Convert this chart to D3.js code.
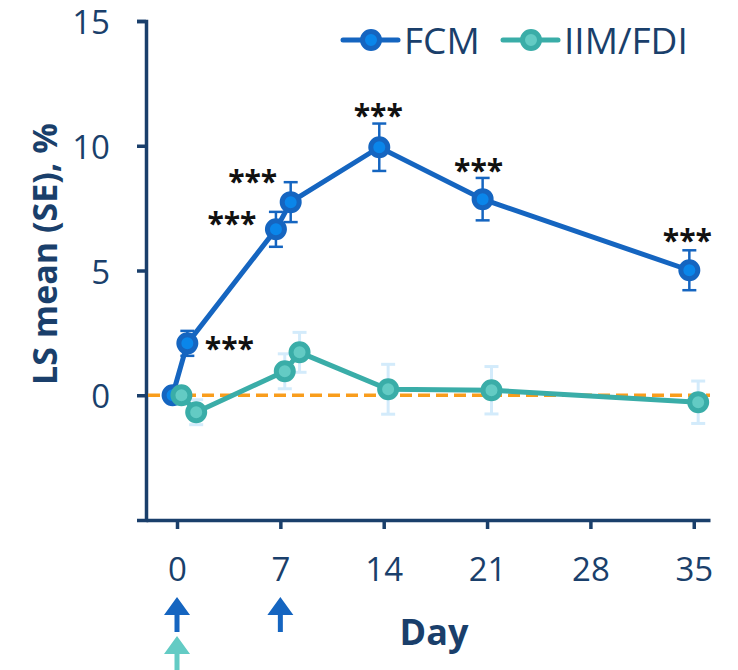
<!DOCTYPE html>
<html><head><meta charset="utf-8">
<script src="https://cdn.jsdelivr.net/npm/d3@7"></script>
<style>body{margin:0;background:#fff}svg{display:block}</style>
</head><body>
<svg id="c" width="738" height="670"></svg>
<script>
const days = [0, 1, 7, 8, 14, 21, 35];
const fcmMean = [0, 2.08, 6.65, 7.74, 9.94, 7.86, 5.01];
const fcmSE = [0, 0.5, 0.7, 0.8, 0.95, 0.85, 0.8];
const iimMean = [0, -0.68, 0.96, 1.72, 0.24, 0.2, -0.28];
const iimSE = [0, 0.5, 0.7, 0.8, 1.0, 0.95, 0.85];
const fcmSig = ["", "***", "***", "***", "***", "***", "***"];
const xTicks = [0, 7, 14, 21, 28, 35];
const yTicks = [0, 5, 10, 15];
const seriesNames = ["FCM", "IIM/FDI"];
const fcmDoses = [0, 7];
const iimDoses = [0];

// layout: offset (px) of each significance label centre from its marker
const sigOffset = [null, [42, -1], [-44, -12], [-38, -27], [-1, -38], [-4, -35], [-2, -36]];

const navy = "#1a3f6b", blue = "#1565c0", blueIn = "#0a86ea", teal = "#3aada8", tealIn = "#63cbc4";
const font = "'Open Sans','Noto Sans',sans-serif";
const svg = d3.select("#c");
const x = d3.scaleLinear().domain([-2.1, 36.1]).range([146, 710]);
const y = d3.scaleLinear().domain([-5, 15]).range([520, 21]);
const off = 0.3;

// axes
const yAx = svg.append("g").attr("transform", "translate(146,0)")
  .call(d3.axisLeft(y).tickValues(yTicks).tickSize(9).tickPadding(27));
const xAx = svg.append("g").attr("transform", "translate(0,520)")
  .call(d3.axisBottom(x).tickValues(xTicks).tickSize(9).tickSizeOuter(0).tickPadding(29));
[yAx, xAx].forEach(a => {
  a.select(".domain").attr("stroke", navy).attr("stroke-width", 3.5);
  a.selectAll(".tick line").attr("stroke", navy).attr("stroke-width", 3.5);
  a.selectAll("text").attr("fill", navy).style("font-family", font).style("font-size", "33px");
});
yAx.selectAll("text").attr("dy", "0.38em");
svg.append("text").attr("transform", "translate(57,254) rotate(-90)").attr("text-anchor", "middle")
  .attr("fill", navy).style("font-family", font).style("font-size", "34px").style("font-weight", "700")
  .text("LS mean (SE), %");
svg.append("text").attr("x", 434).attr("y", 645).attr("text-anchor", "middle")
  .attr("fill", navy).style("font-family", font).style("font-size", "36px").style("font-weight", "700")
  .text("Day");

// zero reference line
svg.append("line").attr("x1", 148).attr("x2", 710).attr("y1", y(0)).attr("y2", y(0))
  .attr("stroke", "#f99d1c").attr("stroke-width", 3.5).attr("stroke-dasharray", "12,6");

const fcm = days.map((d, i) => ({ d: d - off, m: fcmMean[i], se: fcmSE[i], s: fcmSig[i], o: sigOffset[i] }));
const iim = days.map((d, i) => ({ d: d + off, m: iimMean[i], se: iimSE[i] }));

function errbars(data, color, w) {
  const g = svg.append("g").attr("stroke", color).attr("stroke-width", w);
  data.filter(p => p.se > 0).forEach(p => {
    g.append("line").attr("x1", x(p.d)).attr("x2", x(p.d)).attr("y1", y(p.m - p.se)).attr("y2", y(p.m + p.se));
    [p.m - p.se, p.m + p.se].forEach(v => g.append("line").attr("x1", x(p.d) - 7).attr("x2", x(p.d) + 7).attr("y1", y(v)).attr("y2", y(v)));
  });
}
errbars(iim, "#d3ebfb", 3);
errbars(fcm, blue, 2.5);

const line = d3.line().x(p => x(p.d)).y(p => y(p.m));
function series(data, c, cin) {
  svg.append("path").datum(data).attr("d", line).attr("fill", "none").attr("stroke", c).attr("stroke-width", 5);
  svg.append("g").selectAll("circle").data(data).join("circle")
    .attr("cx", p => x(p.d)).attr("cy", p => y(p.m)).attr("r", 8.5)
    .attr("fill", cin).attr("stroke", c).attr("stroke-width", 5);
}
series(fcm, blue, blueIn);
series(iim, teal, tealIn);

// significance stars
fcm.forEach(p => {
  if (!p.s) return;
  svg.append("text").attr("x", x(p.d) + p.o[0]).attr("y", y(p.m) + p.o[1] + 17)
    .attr("text-anchor", "middle").attr("fill", "#111")
    .style("font-family", font).style("font-size", "30px").style("font-weight", "700").text(p.s);
});

// legend
const legend = [{ n: seriesNames[0], c: blue, ci: blueIn, x: 343 }, { n: seriesNames[1], c: teal, ci: tealIn, x: 503 }];
legend.forEach(l => {
  svg.append("line").attr("x1", l.x).attr("x2", l.x + 55).attr("y1", 40).attr("y2", 40).attr("stroke", l.c).attr("stroke-width", 5).attr("stroke-linecap", "round");
  svg.append("circle").attr("cx", l.x + 28).attr("cy", 40).attr("r", 8.5).attr("fill", l.ci).attr("stroke", l.c).attr("stroke-width", 5);
  svg.append("text").attr("x", l.x + 61).attr("y", 54).attr("fill", navy).style("font-family", font).style("font-size", "37px").text(l.n);
});

// dose arrows
function arrow(d, y0, color) {
  const cx = x(d);
  svg.append("path").attr("d", `M${cx},${y0} L${cx + 13},${y0 + 18} L${cx + 2.5},${y0 + 18} L${cx + 2.5},${y0 + 35} L${cx - 2.5},${y0 + 35} L${cx - 2.5},${y0 + 18} L${cx - 13},${y0 + 18} Z`).attr("fill", color);
}
fcmDoses.forEach(d => arrow(d, 597, blue));
iimDoses.forEach(d => arrow(d, 636, tealIn));
</script>
</body></html>
